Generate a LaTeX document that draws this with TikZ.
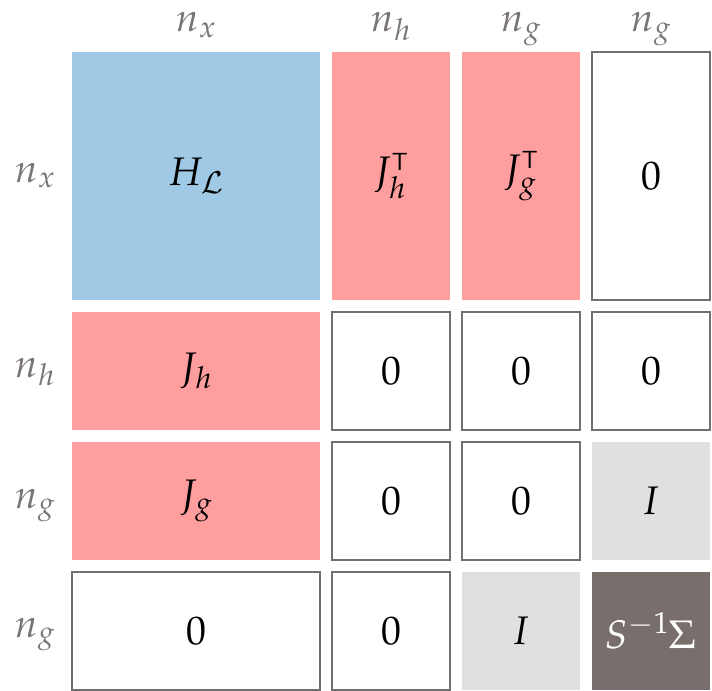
\documentclass[tikz,border=0pt]{standalone}
\usepackage{mathpazo}
\definecolor{hblue}{HTML}{A0C9E6}
\definecolor{jred}{HTML}{FF9E9E}
\definecolor{idgray}{HTML}{E0E0E0}
\definecolor{sdark}{HTML}{786F6D}
\definecolor{dimtext}{HTML}{7A7474}
\definecolor{edgegray}{HTML}{707070}
\begin{document}
\begin{tikzpicture}[x=1bp, y=-1bp, every node/.style={inner sep=0pt, outer sep=0pt, font=\fontsize{40}{48}\selectfont}, blk/.style={minimum width=118bp, minimum height=118bp}, wide/.style={minimum width=248bp}, tall/.style={minimum height=248bp}, zero/.style={blk, draw=edgegray, line width=2bp, fill=white}, dim/.style={text=dimtext, anchor=base}]
	\useasboundingbox (0,0) rectangle (712,691);
	% top labels
	\node[dim] (c1) at (196,32) {$n_x$};
	\node[dim] (c2) at (391,32) {$n_h$};
	\node[dim] (c3) at (521,32) {$n_g$};
	\node[dim] (c4) at (651,32) {$n_g$};
	% side labels
	\node[dim] (r1) at (35,182) {$n_x$};
	\node[dim] (r2) at (35,377) {$n_h$};
	\node[dim] (r3) at (35,508) {$n_g$};
	\node[dim] (r4) at (35,637) {$n_g$};
	% row 1
	\node[blk, wide, tall, fill=hblue] (H) at (196,176) {$H_{\mathcal{L}}$};
	\node[blk, tall, fill=jred] (JhT) at (391,176) {$J_h^{\mathsf{T}}$};
	\node[blk, tall, fill=jred] (JgT) at (521,176) {$J_g^{\mathsf{T}}$};
	\node[zero, tall] (Z14) at (651,176) {$0$};
	% row 2
	\node[blk, wide, fill=jred] (Jh) at (196,371) {$J_h$};
	\node[zero] (Z22) at (391,371) {$0$};
	\node[zero] (Z23) at (521,371) {$0$};
	\node[zero] (Z24) at (651,371) {$0$};
	% row 3
	\node[blk, wide, fill=jred] (Jg) at (196,501) {$J_g$};
	\node[zero] (Z32) at (391,501) {$0$};
	\node[zero] (Z33) at (521,501) {$0$};
	\node[blk, fill=idgray] (I34) at (651,501) {$I$};
	% row 4
	\node[zero, wide] (Z41) at (196,631) {$0$};
	\node[zero] (Z42) at (391,631) {$0$};
	\node[blk, fill=idgray] (I43) at (521,631) {$I$};
	\node[blk, fill=sdark, text=white] (S44) at (651,631) {$S^{-1}\Sigma$};
\end{tikzpicture}
\end{document}
